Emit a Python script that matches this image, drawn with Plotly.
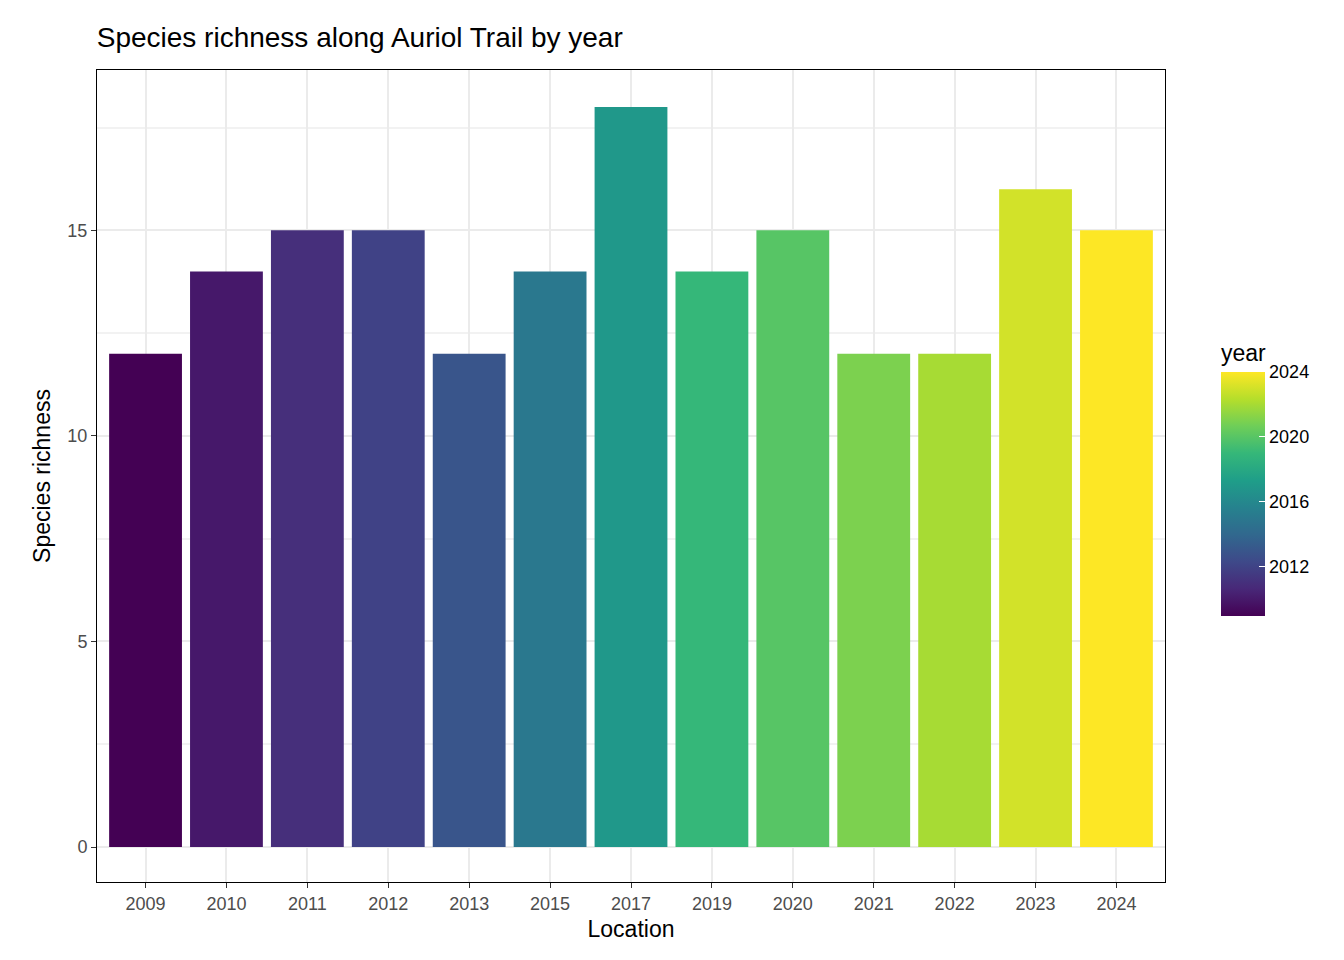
import plotly.graph_objects as go

years = [2009, 2010, 2011, 2012, 2013, 2015, 2017, 2019, 2020, 2021, 2022, 2023, 2024]
richness = [12, 14, 15, 15, 12, 14, 18, 14, 15, 12, 12, 16, 15]
labels = [str(y) for y in years]

fig = go.Figure()
fig.add_bar(
    x=labels,
    y=richness,
    marker=dict(
        color=years,
        colorscale="Viridis",
        cmin=2009,
        cmax=2024,
        line=dict(width=0),
        colorbar=dict(
            title=dict(text="year", font=dict(size=23, color="black"), side="top"),
            tickvals=[2012, 2016, 2020, 2024],
            ticks="inside",
            tickcolor="white",
            ticklen=6,
            tickfont=dict(size=18, color="black"),
            lenmode="pixels",
            len=275,
            thickness=44,
            outlinewidth=0,
            x=1.043,
            xanchor="left",
            y=0.328,
            yanchor="bottom",
            ypad=0,
        ),
    ),
    showlegend=False,
)

axis_common = dict(
    showline=True,
    linecolor="black",
    linewidth=1,
    mirror=True,
    gridcolor="#EBEBEB",
    gridwidth=1.5,
    ticks="outside",
    tickcolor="#333333",
    ticklen=5,
    tickfont=dict(size=18, color="#4D4D4D"),
    zeroline=False,
    automargin=False,
)

fig.update_layout(
    width=1344,
    height=960,
    plot_bgcolor="white",
    paper_bgcolor="white",
    font=dict(family="Liberation Sans, Arial, sans-serif"),
    title=dict(text="Species richness along Auriol Trail by year",
               font=dict(size=28, color="black"), x=0.066, xanchor="left",
               y=0.97, yanchor="middle", automargin=False),
    margin=dict(l=89, r=187, t=62, b=86, autoexpand=False),
    bargap=0.1,
    xaxis=dict(axis_common, range=[-0.6, 12.6],
               title=dict(text="Location", font=dict(size=23, color="black"), standoff=8)),
    yaxis=dict(axis_common, range=[-0.85, 18.9], tickvals=[0, 5, 10, 15],
               minor=dict(tickvals=[2.5, 7.5, 12.5, 17.5], gridcolor="#F2F2F2", showgrid=True),
               title=dict(text="Species richness", font=dict(size=23, color="black"), standoff=10)),
)

fig.write_html("out.html")
